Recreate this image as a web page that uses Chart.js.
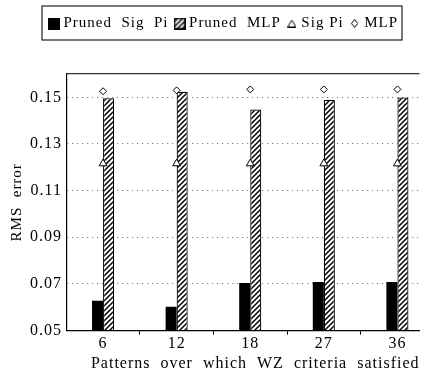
<!DOCTYPE html>
<html>
<head>
<meta charset="utf-8">
<script src="https://cdn.jsdelivr.net/npm/chart.js@4"></script>
<style>
    html, body { margin: 0; padding: 0; background: #fff; overflow: hidden; }
    #wrap { width: 425px; height: 376px; }
</style>
</head>
<body>
<div id="wrap"><canvas id="myChart" width="425" height="376"></canvas></div>
<script>
// data
const categories = ["6", "12", "18", "27", "36"];
const prunedSigPi = [0.0628, 0.0602, 0.0704, 0.0708, 0.0708];
const prunedMLP = [0.1496, 0.1524, 0.1448, 0.1489, 0.1499];
const sigPi = [0.1216, 0.1216, 0.1216, 0.1216, 0.1216];
const mlp = [0.1526, 0.1530, 0.1534, 0.1534, 0.1534];
const yTicks = [0.05, 0.07, 0.09, 0.11, 0.13, 0.15];

const FONT = "'Liberation Serif', 'DejaVu Serif', serif";

// hatch pattern for the pruned MLP bars
function makeHatch() {
    const c = document.createElement("canvas");
    c.width = 5;
    c.height = 5;
    const g = c.getContext("2d");
    g.fillStyle = "#fff";
    g.fillRect(0, 0, 5, 5);
    g.strokeStyle = "#000";
    g.lineWidth = 1.5;
    g.beginPath();
    g.moveTo(0, 5);
    g.lineTo(5, 0);
    g.moveTo(-1, 1);
    g.lineTo(1, -1);
    g.moveTo(4, 6);
    g.lineTo(6, 4);
    g.stroke();
    return g.createPattern(c, "repeat");
}

function symbol(w, h, draw) {
    const c = document.createElement("canvas");
    c.width = w;
    c.height = h;
    draw(c.getContext("2d"));
    return c;
}

const hatch = makeHatch();

const legendIcons = [
    symbol(12, 12, (g) => {
        g.fillStyle = "#000";
        g.fillRect(0, 0, 12, 12);
    }),
    symbol(12, 12, (g) => {
        g.fillStyle = hatch;
        g.fillRect(0, 0, 12, 12);
        g.strokeStyle = "#000";
        g.lineWidth = 1.5;
        g.strokeRect(0.75, 0.75, 10.5, 10.5);
    }),
    symbol(9, 8, (g) => {
        g.strokeStyle = "#000";
        g.lineWidth = 1;
        g.beginPath();
        g.moveTo(4.5, 0.5);
        g.lineTo(8.5, 7.5);
        g.lineTo(0.5, 7.5);
        g.closePath();
        g.stroke();
    }),
    symbol(7, 9, (g) => {
        g.strokeStyle = "#000";
        g.lineWidth = 1;
        g.beginPath();
        g.moveTo(3.5, 0.5);
        g.lineTo(6.5, 4.5);
        g.lineTo(3.5, 8.5);
        g.lineTo(0.5, 4.5);
        g.closePath();
        g.stroke();
    }),
];

const pts = (arr) => arr.map((v, i) => ({ x: i, y: v }));

// wider letters, like the typeset original
const spacing = {
    id: "spacing",
    beforeUpdate(chart) {
        chart.ctx.letterSpacing = "1px";
    },
    beforeDraw(chart) {
        chart.ctx.letterSpacing = "1px";
    },
};

// more room under the legend, move it a bit right, and box it
const legendPlace = {
    id: "legendPlace",
    beforeInit(chart) {
        const fit = chart.legend.fit;
        chart.legend.fit = function () {
            fit.call(this);
            this.height += 33;
        };
    },
    afterLayout(chart) {
        chart.legend.left += 10;
        chart.legend.right += 10;
    },
    afterDraw(chart) {
        const boxes = chart.legend.legendHitBoxes;
        if (!boxes || !boxes.length) return;
        const left = Math.min(...boxes.map((b) => b.left)) - 10;
        const right = Math.max(...boxes.map((b) => b.left + b.width)) + 4;
        const top = boxes[0].top - 10;
        const bottom = boxes[0].top + boxes[0].height + 9;
        const ctx = chart.ctx;
        ctx.save();
        ctx.strokeStyle = "#222";
        ctx.lineWidth = 1.2;
        ctx.strokeRect(left, top, right - left, bottom - top);
        ctx.restore();
    },
};

const ctx = document.getElementById("myChart");

new Chart(ctx, {
    data: {
        datasets: [
            {
                type: "line",
                label: "Sig Pi",
                data: pts(sigPi),
                showLine: false,
                pointStyle: "triangle",
                pointRadius: 4.5,
                pointBorderWidth: 1,
                pointBackgroundColor: "#fff",
                pointBorderColor: "#000",
                order: 1,
            },
            {
                type: "line",
                label: "MLP",
                data: pts(mlp),
                showLine: false,
                pointStyle: "rectRot",
                pointRadius: 3.5,
                pointBorderWidth: 1,
                pointBackgroundColor: "#fff",
                pointBorderColor: "#000",
                order: 1,
            },
            {
                type: "bar",
                label: "Pruned Sig Pi",
                data: pts(prunedSigPi),
                backgroundColor: "#000",
                borderWidth: 0,
                base: 0.05,
                categoryPercentage: 0.3,
                barPercentage: 1,
                order: 2,
            },
            {
                type: "bar",
                label: "Pruned MLP",
                data: pts(prunedMLP),
                backgroundColor: hatch,
                borderColor: "#000",
                borderWidth: 1.2,
                borderSkipped: "bottom",
                base: 0.05,
                categoryPercentage: 0.3,
                barPercentage: 1,
                order: 2,
            },
        ],
    },
    options: {
        responsive: false,
        animation: false,
        layout: {
            padding: { left: 10, right: 5, top: 7, bottom: 3 },
        },
        plugins: {
            tooltip: { enabled: false },
            legend: {
                display: true,
                position: "top",
                labels: {
                    usePointStyle: true,
                    pointStyleWidth: 4,
                    color: "#000",
                    padding: 9,
                    font: { family: FONT, size: 15 },
                    generateLabels: () => {
                        const names = ["Pruned  Sig  Pi", "Pruned  MLP", "Sig Pi", "MLP"];
                        return names.map((n, i) => ({
                            text: n,
                            pointStyle: legendIcons[i],
                            fillStyle: "#000",
                            strokeStyle: "#000",
                            lineWidth: 0,
                            hidden: false,
                            datasetIndex: i,
                        }));
                    },
                },
            },
        },
        scales: {
            x: {
                type: "linear",
                min: -0.49,
                max: 4.3,
                offset: false,
                afterBuildTicks: (scale) => {
                    scale.ticks = categories.map((c, i) => ({ value: i }));
                },
                ticks: {
                    color: "#000",
                    font: { family: FONT, size: 16 },
                    padding: 0,
                    callback: (v) => categories[v],
                },
                grid: {
                    drawOnChartArea: false,
                    drawTicks: true,
                    tickLength: 4,
                    color: "#000",
                },
                border: { color: "#000", width: 1.2 },
                title: {
                    display: true,
                    align: "end",
                    text: "Patterns  over  which  WZ  criteria  satisfied",
                    color: "#000",
                    font: { family: FONT, size: 16 },
                    padding: { top: 0, bottom: 0 },
                },
            },
            y: {
                min: 0.05,
                max: 0.16,
                afterBuildTicks: (scale) => {
                    scale.ticks = yTicks.concat([0.16]).map((v) => ({ value: v }));
                },
                ticks: {
                    color: "#000",
                    font: { family: FONT, size: 16 },
                    padding: 5,
                    callback: (v) => (yTicks.includes(v) ? v.toFixed(2) : ""),
                },
                grid: {
                    drawTicks: false,
                    color: (c) => (c.tick && c.tick.value === 0.16 ? "#333" : "#666"),
                    lineWidth: (c) => (c.tick && c.tick.value === 0.16 ? 1.2 : 1),
                },
                border: {
                    color: "#000",
                    width: 1.2,
                    dash: (c) => (c.tick && (c.tick.value === 0.16 || c.tick.value === 0.05) ? [] : [1, 4]),
                },
                title: {
                    display: true,
                    text: "RMS  error",
                    color: "#000",
                    font: { family: FONT, size: 15, lineHeight: 1 },
                    padding: { top: 0, bottom: 0 },
                },
            },
        },
    },
    plugins: [spacing, legendPlace],
});
</script>
</body>
</html>
